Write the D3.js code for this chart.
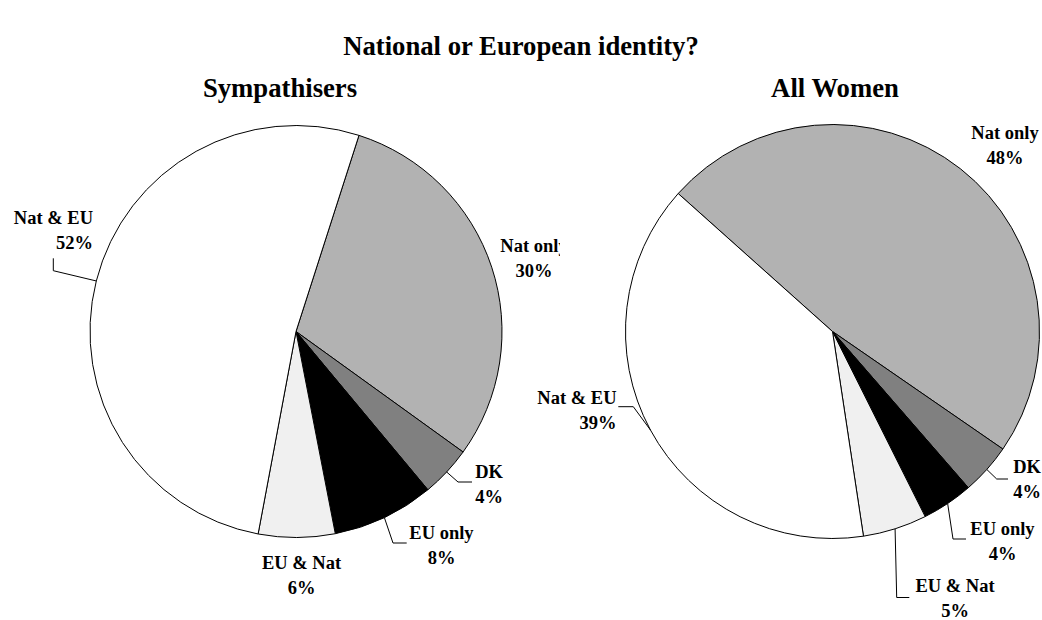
<!DOCTYPE html>
<html>
<head>
<meta charset="utf-8">
<script src="https://cdn.jsdelivr.net/npm/d3@7"></script>
<style>
  html, body { margin: 0; padding: 0; background: #fff; }
  svg { display: block; }
  text { font-family: "Liberation Serif", "Times New Roman", serif; font-weight: bold; fill: #000; }
</style>
</head>
<body>
<svg id="chart" width="1042" height="620"></svg>
<script>
// ---- data ----
const title = "National or European identity?";
const categories = ["Nat only", "DK", "EU only", "EU & Nat", "Nat & EU"];
const sympathisers = [30, 4, 8, 6, 52];
const allWomen = [48, 4, 4, 5, 39];
const panelTitles = ["Sympathisers", "All Women"];
const colors = ["#b2b2b2", "#808080", "#000000", "#f0f0f0", "#ffffff"];

// ---- layout ----
const W = 1042, H = 620;
const panels = [
  { title: panelTitles[0], values: sympathisers, cx: 296, cy: 331.5, r: 206, startDeg: 17.8, titleX: 280,
    clipRight: 560,
    labels: [
      { dx: 238, dy: -79.5, anchor: "middle" },
      { dx: 193, dy: 146.5, anchor: "middle", leader: [[162, 150.5], [176, 150.5]] },
      { dx: 145.5, dy: 207.5, anchor: "middle", leader: [[97, 211.5], [110.7, 211.5]] },
      { dx: 5.5, dy: 237.5, anchor: "middle" },
      { dx: -203, dy: -107.5, anchor: "end", leader: [[-242.7, -60.8], [-242.7, -73.2]] }
    ] },
  { title: panelTitles[1], values: allWomen, cx: 832.5, cy: 331.5, r: 207, startDeg: -48.2, titleX: 835,
    clipRight: 1042,
    labels: [
      { dx: 172.5, dy: -192.5, anchor: "middle" },
      { dx: 194.5, dy: 141.5, anchor: "middle", leader: [[164.2, 147.5], [175.5, 147.5]] },
      { dx: 170, dy: 203.5, anchor: "middle", leader: [[120.5, 207.5], [133.5, 207.5]] },
      { dx: 122.5, dy: 260.5, anchor: "middle", leader: [[64.2, 266], [76.8, 266]] },
      { dx: -216, dy: 72.5, anchor: "end", leader: [[-199.2, 75.2], [-214.2, 75.2]] }
    ] }
];

const svg = d3.select("#chart");
svg.append("rect").attr("width", W).attr("height", H).attr("fill", "#fff");

svg.append("text")
  .attr("x", 521).attr("y", 55)
  .attr("text-anchor", "middle")
  .style("font-size", "26.7px")
  .text(title);

const color = d3.scaleOrdinal().domain(categories).range(colors);

panels.forEach((p, pi) => {
  const toRad = Math.PI / 180;
  const pie = d3.pie().sort(null).value(d => d.value)
    .startAngle(p.startDeg * toRad).endAngle(p.startDeg * toRad + 2 * Math.PI);
  const data = pie(categories.map((c, i) => ({ cat: c, value: p.values[i] })));
  const arc = d3.arc().innerRadius(0).outerRadius(p.r);

  svg.append("text")
    .attr("x", p.titleX).attr("y", 97)
    .attr("text-anchor", "middle")
    .style("font-size", "26.7px")
    .text(p.title);

  const clipId = "clip" + pi;
  svg.append("clipPath").attr("id", clipId)
    .append("rect").attr("x", 0).attr("y", 0).attr("width", p.clipRight).attr("height", H);

  const g = svg.append("g").attr("transform", `translate(${p.cx},${p.cy})`);

  g.selectAll("path.slice").data(data).join("path")
    .attr("class", "slice")
    .attr("d", arc)
    .attr("fill", d => color(d.data.cat))
    .attr("stroke", "#000")
    .attr("stroke-width", 1)
    .attr("stroke-linejoin", "round");

  const lg = svg.append("g").attr("clip-path", `url(#${clipId})`)
    .append("g").attr("transform", `translate(${p.cx},${p.cy})`);

  data.forEach((d, i) => {
    const L = p.labels[i];
    if (L.leader) {
      const mid = (d.startAngle + d.endAngle) / 2;
      const s = [p.r * Math.sin(mid), -p.r * Math.cos(mid)];
      lg.append("path")
        .attr("d", d3.line()([s, ...L.leader]))
        .attr("fill", "none")
        .attr("stroke", "#000")
        .attr("stroke-width", 1);
    }
    const t = lg.append("text")
      .attr("text-anchor", L.anchor)
      .style("font-size", "18.5px");
    t.append("tspan").attr("x", L.dx).attr("y", L.dy).text(d.data.cat);
    t.append("tspan").attr("x", L.dx).attr("y", L.dy + 24.5).text(d3.format(".0f")(d.data.value) + "%");
  });
});
</script>
</body>
</html>
